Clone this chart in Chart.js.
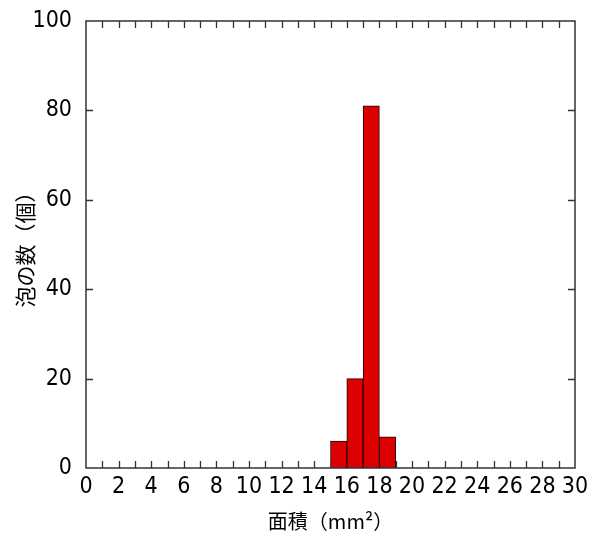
<!DOCTYPE html>
<html>
<head>
<meta charset="utf-8">
<script src="https://cdn.jsdelivr.net/npm/chart.js@4/dist/chart.umd.min.js"></script>
<style>
  html, body { margin: 0; padding: 0; background: #fff; }
  #wrap { width: 590px; height: 533px; }
</style>
</head>
<body>
<div id="wrap"><canvas id="histChart"></canvas></div>
<script>
// Histogram of bubble areas (mm2) - bin edges every 1 mm2
const binStarts = [15, 16, 17, 18];
const binCounts = [6, 20, 81, 7];
const xTickStep = 1;      // minor ticks every 1
const xLabelStep = 2;     // labels every 2
const yTickValues = [0, 20, 40, 60, 80, 100];

const labelFont = "'Liberation Sans Narrow', 'DejaVu Sans Condensed', 'Noto Sans CJK JP', sans-serif";
const cjkFont = "'Noto Sans CJK JP', sans-serif";

// Points centred in each bin so bars span [start, start+1]
const points = binStarts.map((s, i) => ({ x: s + 0.5, y: binCounts[i] }));

// Inward tick marks on all four sides (under the bars), frame on top
const framePlugin = {
    id: 'frame',
    beforeDatasetsDraw(chart) {
        const { ctx, chartArea: a, scales } = chart;
        const xs = scales.x, ys = scales.y;
        const len = 7;
        ctx.save();
        ctx.strokeStyle = '#333';
        ctx.lineWidth = 1.3;
        ctx.beginPath();
        for (let v = xs.min + xTickStep; v < xs.max; v += xTickStep) {
            const px = Math.round(xs.getPixelForValue(v)) + 0.5;
            ctx.moveTo(px, a.bottom); ctx.lineTo(px, a.bottom - len);
            ctx.moveTo(px, a.top); ctx.lineTo(px, a.top + len);
        }
        yTickValues.forEach(v => {
            if (v <= ys.min || v >= ys.max) return;
            const py = Math.round(ys.getPixelForValue(v)) + 0.5;
            ctx.moveTo(a.left, py); ctx.lineTo(a.left + len, py);
            ctx.moveTo(a.right, py); ctx.lineTo(a.right - len, py);
        });
        ctx.stroke();
        ctx.restore();
    },
    afterDraw(chart) {
        const { ctx, chartArea: a } = chart;
        ctx.save();
        ctx.strokeStyle = '#333';
        ctx.lineWidth = 1.5;
        ctx.strokeRect(a.left, a.top, a.right - a.left, a.bottom - a.top);
        ctx.restore();
    }
};

new Chart(document.getElementById('histChart'), {
    type: 'bar',
    data: {
        datasets: [{
            data: points,
            backgroundColor: '#dd0000',
            borderColor: '#2a0000',
            borderWidth: 1,
            barPercentage: 1,
            categoryPercentage: 1
        }]
    },
    options: {
        responsive: true,
        maintainAspectRatio: false,
        animation: false,
        layout: { padding: { top: 21, right: 15, left: 0, bottom: 0 } },
        plugins: {
            legend: { display: false },
            tooltip: { enabled: false }
        },
        scales: {
            x: {
                type: 'linear',
                offset: false,
                min: 0,
                max: 30,
                grid: { display: false, drawTicks: false, offset: false },
                border: { display: false },
                ticks: {
                    stepSize: xTickStep,
                    autoSkip: false,
                    maxRotation: 0,
                    padding: 5,
                    color: '#000',
                    font: { family: labelFont, size: 23 },
                    callback: v => (v % xLabelStep === 0 ? v : '')
                },
                title: {
                    display: true,
                    text: '面積（mm²）',
                    color: '#000',
                    font: { family: cjkFont, size: 20 },
                    padding: { top: 0, bottom: 0 }
                },
                afterFit: s => { s.height = 65; s.paddingLeft = 0; s.paddingRight = 0; }
            },
            y: {
                min: 0,
                max: 100,
                grid: { display: false, drawTicks: false },
                border: { display: false },
                ticks: {
                    stepSize: 20,
                    padding: 14,
                    color: '#000',
                    font: { family: labelFont, size: 23 }
                },
                title: {
                    display: true,
                    text: '泡の数（個）',
                    color: '#000',
                    font: { family: cjkFont, size: 21 },
                    padding: { top: 12, bottom: 0 }
                },
                afterFit: s => { s.width = 86; s.paddingTop = 0; s.paddingBottom = 0; }
            }
        }
    },
    plugins: [framePlugin]
});
</script>
</body>
</html>
